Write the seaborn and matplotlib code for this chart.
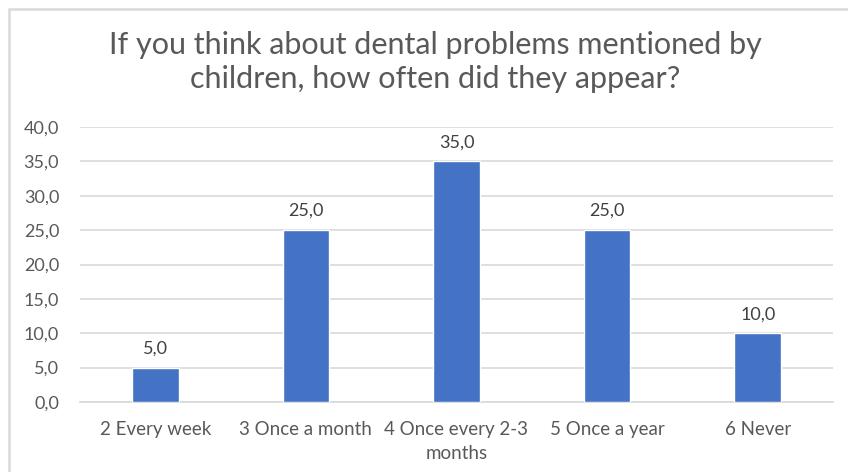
import matplotlib
matplotlib.use("Agg")
import matplotlib.pyplot as plt
import seaborn as sns
import pandas as pd
from matplotlib.patches import Rectangle

categories = ["2 Every week", "3 Once a month", "4 Once every 2-3\nmonths",
              "5 Once a year", "6 Never"]
values = [5.0, 25.0, 35.0, 25.0, 10.0]
y_ticks = [0, 5, 10, 15, 20, 25, 30, 35, 40]

title = "If you think about dental problems mentioned by\nchildren, how often did they appear?"

bar_color = "#4472C4"
text_color = "#595959"
grid_color = "#D9D9D9"

sns.set_theme(style="white")
plt.rcParams["font.family"] = ["Lato", "DejaVu Sans"]

df = pd.DataFrame({"category": categories, "value": values})

fig = plt.figure(figsize=(8.48, 4.72), dpi=100)
ax = fig.add_axes([80 / 848, 1 - 402 / 472, (833 - 80) / 848, (402 - 127) / 472])

sns.barplot(data=df, x="category", y="value", color=bar_color, width=0.31,
            saturation=1, ax=ax, zorder=3)

ax.set_ylim(0, 40)
ax.set_yticks(y_ticks)
ax.set_yticklabels([f"{v:.1f}".replace(".", ",") for v in y_ticks])
ax.yaxis.grid(True, color=grid_color, linewidth=1.2, zorder=0)
ax.set_axisbelow(True)
for side in ["top", "right", "left"]:
    ax.spines[side].set_visible(False)
ax.spines["bottom"].set_color(grid_color)
ax.spines["bottom"].set_linewidth(1.2)
ax.tick_params(axis="both", length=0, colors=text_color, labelsize=13)
ax.tick_params(axis="x", labelsize=13.5)
ax.tick_params(axis="y", pad=15)
ax.tick_params(axis="x", pad=14)
ax.set_xlabel("")
ax.set_ylabel("")
for lbl in ax.get_xticklabels():
    lbl.set_linespacing(1.45)

for container in ax.containers:
    ax.bar_label(container, labels=[f"{v:.1f}".replace(".", ",") for v in values],
                 padding=8, color="#404040", fontsize=13)

fig.text(435 / 848, 1 - 62 / 472, title, ha="center", va="center", fontsize=22,
         color=text_color, linespacing=1.3)

# chart frame
fig.patches.append(Rectangle((8.5 / 848, -0.1), 1.2, 1 - 8.5 / 472 + 0.1,
                             transform=fig.transFigure, fill=False,
                             edgecolor="#D9D9D9", linewidth=1.8))

fig.savefig("out.png", dpi=100, facecolor="white")
